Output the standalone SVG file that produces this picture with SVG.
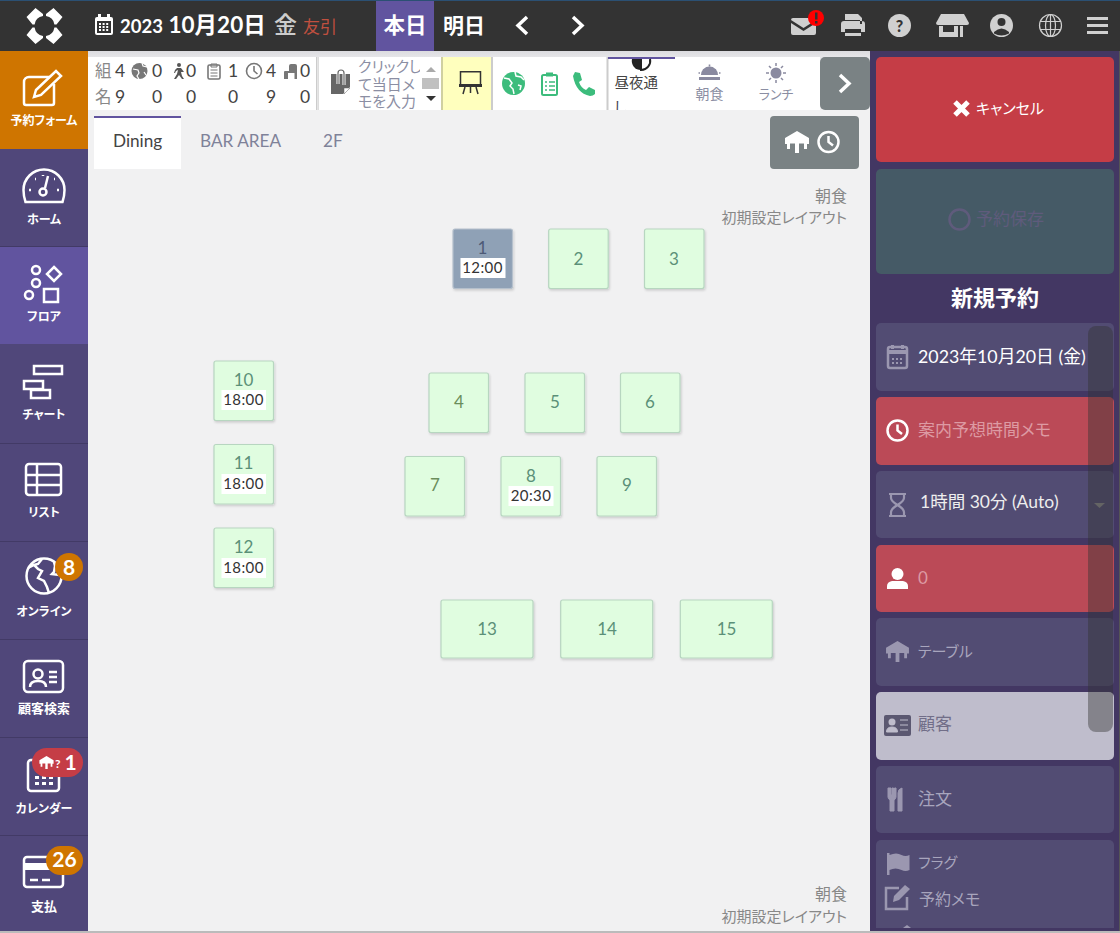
<svg xmlns="http://www.w3.org/2000/svg" width="1120" height="933" viewBox="0 0 1120 933">
<style>
text{font-family:"Lato","Noto Sans CJK JP",sans-serif;font-feature-settings:"palt"}
.cjk{font-family:"Noto Sans CJK JP","Lato",sans-serif}
.nav{fill:#fff;font-size:13px;font-weight:700;text-anchor:middle}
.kana{font-size:12px}
.ico{fill:none;stroke:#fff;stroke-width:2.5}
.top{fill:#d0d0d0}
.stat{font-size:17.500px;fill:#444;text-anchor:middle}
.statj{font-size:16.500px;fill:#888}
.tab{font-size:17.200px;fill:#7f8299}
.tbl{fill:#e0fde0;stroke:#b7d6c0;stroke-width:1.2;filter:url(#sh)}
.tn{font-size:17px;fill:#5b9078;text-anchor:middle}
.tt{font-size:15px;letter-spacing:.4px;fill:#333;text-anchor:middle}
.card{fill:#524c73}
.red{fill:#bb4a57}
.lbl{font-size:17px}
.mut{fill:#a8a5bd}
.micon{fill:#9b97b0}
.badge{fill:#cf7500}
.bt{fill:#fff;font-weight:700;font-size:21px;text-anchor:middle}
.green{fill:#3cbc7c}
.note{font-size:15px;fill:#888;text-anchor:end}
</style>
<defs>
<filter id="sh" x="-10%" y="-10%" width="125%" height="125%"><feDropShadow dx="1" dy="1.500" stdDeviation="1.200" flood-color="#000" flood-opacity=".16"/></filter>
<linearGradient id="tg" x1="0" y1="0" x2="0" y2="1"><stop offset="0" stop-color="#dcdce0"/><stop offset="1" stop-color="#f1f1f3"/></linearGradient>
<clipPath id="c"><rect x="608" y="57" width="67" height="53"/></clipPath>
<clipPath id="m"><rect x="350" y="57" width="70" height="53"/></clipPath>
<symbol id="table" viewBox="0 0 24 22"><path d="M12 0 24 7v6h-2v5h-3v-5.500h-5V22h-4V12.500H5V18H2v-5H0V7z"/></symbol>
<g id="clock"><circle r="10" fill="none" stroke-width="2.500"/><path d="M0-6V0l4.500 3.500" fill="none" stroke-width="2.500"/></g>
<path id="petal" d="M-18-9-9-18-1.500-12V-9.900A10 10 0 0 0-9.900-1.500H-12z"/>
</defs>

<rect width="1120" height="933" fill="#f1f1f2"/>
<rect x="88" y="51" width="782" height="14" fill="url(#tg)"/>

<g id="topbar">
<rect width="1120" height="51" fill="#333"/>
<rect width="1120" height="1" fill="#2b5073"/>
<g id="logo" fill="#fff" transform="translate(44.500 26)"><use href="#petal"/><use href="#petal" transform="scale(-1 1)"/><use href="#petal" transform="scale(1 -1)"/><use href="#petal" transform="scale(-1 -1)"/></g>
<g id="date-icon"><rect x="95" y="17" width="18" height="18" rx="2" fill="#fff"/><rect x="98" y="14" width="3" height="5" fill="#fff"/><rect x="107" y="14" width="3" height="5" fill="#fff"/><rect x="97" y="21" width="14" height="12" fill="#333"/><path d="M99 24h10M99 27h10M99 30h10" stroke="#fff" stroke-width="2" stroke-dasharray="2 1.600"/></g>
<text x="120" y="33" font-size="18.500" font-weight="700" fill="#fff">2023</text>
<text x="168.500" y="33" font-size="22.500" font-weight="700" fill="#fff">10月20日</text>
<text x="274" y="33" font-size="23" fill="#ccc" class="cjk" font-weight="500">金</text>
<text x="303" y="33" font-size="17" fill="#c0503f" class="cjk">友引</text>
<rect x="376" y="1" width="58" height="50" fill="#61549f"/>
<text x="405" y="33" font-size="21.500" font-weight="700" fill="#fff" text-anchor="middle" class="cjk">本日</text>
<text x="464" y="33" font-size="21" font-weight="700" fill="#fff" text-anchor="middle" class="cjk">明日</text>
<path d="M527 17l-9 8.500 9 8.500M573 17l9 8.500-9 8.500" fill="none" stroke="#fff" stroke-width="3.500"/>
<g id="top-icons" class="top">
<path d="M791 20q0-2 2-2h21q2 0 2 2l-12.500 8zM791 23l12.500 8 12.500-8v10q0 2-2 2h-21q-2 0-2-2z"/>
<circle cx="816" cy="18" r="8" fill="#f00"/><rect x="815" y="12.500" width="2.500" height="7" fill="#333"/><rect x="815" y="21" width="2.500" height="2.500" fill="#333"/>
<path d="M845 14h13l4 4v6h-2v-4h-15zM841 24q0-3 3-3h18q3 0 3 3v8h-4v4h-16v-4h-4zM845 29v4h16v-4z" fill-rule="evenodd"/>
<circle cx="899.500" cy="25.500" r="11.500"/><text x="899.500" y="31.500" font-size="16" font-weight="900" fill="#333" text-anchor="middle">?</text>
<path d="M941 14h23l5 9q0 2-2 2h-29q-2 0-2-2z"/><path d="M939 26h4v6h11v-6h4v11h-19zM960 26h3v11h-3z"/>
<circle cx="1001.500" cy="25.500" r="11.500"/><circle cx="1001.500" cy="22" r="4" fill="#333"/><path d="M994 32q7.500-7 15 0v1.500q-7.500 4-15 0z" fill="#333"/>
<g fill="none" stroke="#d0d0d0" stroke-width="1.200"><circle cx="1050.500" cy="25.500" r="11"/><ellipse cx="1050.500" cy="25.500" rx="5" ry="11"/><path d="M1040 21.500h21M1040 29.500h21M1050.500 14.500v22"/></g>
<rect x="1087" y="17" width="21" height="3"/><rect x="1087" y="24" width="21" height="3"/><rect x="1087" y="31" width="21" height="3"/>
</g>
</g>

<g id="sidebar">
<rect y="51" width="88" height="880" fill="#50477a"/>
<path d="M0 246.500H88M0 443.500H88M0 541.500H88M0 639.500H88M0 737.500H88M0 835.500H88" stroke="#423a66"/>
<g id="nav-form"><rect y="51" width="88" height="98" fill="#cf7500"/>
<path d="M50 77H29a5 5 0 0 0-5 5v21a2 2 0 0 0 2 2h26a2 2 0 0 0 2-2V84" class="ico"/><path d="M34 97l2-7 20-19 5 5-20 19z" class="ico"/><text x="44" y="125" class="nav kana">予約フォーム</text></g>
<g id="nav-home"><path d="M25.500 202Q23.500 196 23.500 190a20.500 20.500 0 0 1 41 0q0 6-2 12z" class="ico"/><circle cx="43" cy="192" r="3.500" class="ico"/><path d="M45 188l3-12" class="ico"/><path d="M29 190h2M35 179h1M43 175v1M54 179h1M57 190h2" class="ico"/><text x="44" y="224" class="nav kana">ホーム</text></g>
<g id="nav-floor"><rect y="247" width="88" height="97" fill="#61549f"/><g class="ico"><circle cx="36" cy="270" r="4"/><circle cx="36" cy="283" r="4"/><circle cx="29" cy="295" r="4"/><rect x="44" y="289" width="14" height="13"/><path d="M54 267l7 7-7 7-7-7z"/></g><text x="44" y="321" class="nav kana">フロア</text></g>
<g id="nav-chart"><g class="ico"><rect x="34" y="366" width="28" height="8"/><rect x="24" y="381" width="19" height="8"/><rect x="31" y="390" width="19" height="8"/></g><text x="44" y="419" class="nav kana">チャート</text></g>
<g id="nav-list"><rect x="26" y="464" width="35" height="31" rx="3" class="ico"/><path d="M26 475h35M26 485h35M37 464v31" class="ico"/><text x="44" y="517" class="nav kana">リスト</text></g>
<g id="nav-online"><circle cx="44" cy="576" r="17.500" class="ico"/><path d="M42 559l-4 5-4 1 4 4 4 2-4 7 6 3 3 6 2 6M54 562l1 4-1 6-2 2 8 1M34 565l-6 3" class="ico" stroke-width="2"/><circle cx="69" cy="567" r="14" class="badge"/><text x="69" y="574.500" class="bt">8</text><text x="44" y="616" class="nav kana">オンライン</text></g>
<g id="nav-customer"><rect x="24" y="661" width="39" height="31" rx="4" class="ico"/><circle cx="38" cy="674" r="4.500" class="ico"/><path d="M30 687q0-6 8-6t8 6M49 672h8M49 677h8M49 682h8" class="ico"/><text x="44" y="713" class="nav">顧客検索</text></g>
<g id="nav-calendar"><rect x="28" y="760" width="31" height="31" rx="3" class="ico"/><path d="M35 776h4v3h-4zM42 776h4v3h-4zM49 776h4v3h-4zM35 782h4v3h-4zM42 782h4v3h-4zM49 782h4v3h-4z" fill="#fff"/><rect x="32" y="748" width="51" height="29" rx="14.500" fill="#c53d46"/><use href="#table" x="39" y="756" width="15" height="13" fill="#fff"/><text x="55" y="768" font-size="12" font-weight="700" fill="#fff">?</text><text x="70.500" y="770" class="bt">1</text><text x="44" y="813" class="nav kana">カレンダー</text></g>
<g id="nav-pay"><rect x="24" y="857" width="39" height="30" rx="3" class="ico"/><rect x="24" y="863" width="39" height="7" fill="#fff"/><path d="M30 880h8M42 880h8" class="ico"/><rect x="46" y="846" width="37" height="29" rx="14.500" class="badge"/><text x="64.500" y="867" class="bt">26</text><text x="44" y="911" class="nav">支払</text></g>
</g>

<g id="toolbar">
<rect x="88" y="57" width="732" height="53" fill="#fff"/>
<g id="stats">
<text x="95" y="77" class="statj cjk">組</text><text x="95" y="103" class="statj cjk">名</text>
<text class="stat" x="120" y="77">4</text><text class="stat" x="120" y="103">9</text>
<circle cx="139.500" cy="71" r="8" fill="#777"/><path d="M133 69l5 1 1 3-2 3 2 3M142 63l1 3 4 1M144 72l2 3" stroke="#fff" fill="none" stroke-width="1.200"/>
<text class="stat" x="157" y="77">0</text><text class="stat" x="157" y="103">0</text>
<g fill="#555"><circle cx="179" cy="65" r="2"/><path d="M177 68h4l3 4h-3l1 4 2 3h-2l-3-4-3 4h-2l3-5 1-4-2 1-1 2h-1l1-3z"/></g>
<text class="stat" x="191" y="77">0</text><text class="stat" x="191" y="103">0</text>
<rect x="208" y="65" width="12" height="14" rx="1.500" fill="none" stroke="#777" stroke-width="1.600"/><path d="M211 64h6v3h-6zM210.500 70h7M210.500 73h7M210.500 76h7" fill="none" stroke="#777"/>
<text class="stat" x="233" y="77">1</text><text class="stat" x="233" y="103">0</text>
<circle cx="254" cy="71" r="7.500" fill="none" stroke="#777" stroke-width="1.600"/><path d="M254 66v5l3.500 3" fill="none" stroke="#777" stroke-width="1.600"/>
<text class="stat" x="271" y="77">4</text><text class="stat" x="271" y="103">9</text>
<path d="M289 66q0-2 2-2h4q2 0 2 2v13h-2.500v-6H288v6h-4v-7q0-1 1-1h4z" fill="#777"/>
<text class="stat" x="305" y="77">0</text><text class="stat" x="305" y="103">0</text>
</g>
<rect x="316" y="57" width="1.500" height="53" fill="#ccc"/><rect x="318" y="57" width="1" height="53" fill="#ddd"/>
<g id="memo"><path d="M331 74h19v13l-7 7h-12z" fill="#666"/><path d="M344 94v-6h6z" fill="#fff" stroke="#666" stroke-width=".5"/><path d="M338 84V73a3 3 0 0 1 6 0v12" fill="none" stroke="#fff" stroke-width="3"/><path d="M338 84V73a3 3 0 0 1 6 0v12" fill="none" stroke="#666" stroke-width="1.200"/>
<g clip-path="url(#m)"><text font-size="15" fill="#8b8ea3" class="cjk"><tspan x="358" y="72">クリックし</tspan><tspan x="358" y="90">て当日メ</tspan><tspan x="358" y="107">モを入力</tspan></text></g>
<path d="M426 72l5-5 5 5z" fill="#aaa"/><rect x="422" y="78" width="17" height="11" fill="#c0c0c0"/><path d="M426 96l5 5 5-5z" fill="#333"/></g>
<rect x="442" y="57" width="49" height="53" fill="#ffffbe"/><rect x="441" y="57" width="2" height="53" fill="#d0d0a0"/><rect x="491" y="57" width="2" height="53" fill="#ccc"/>
<path d="M460.500 85V71.700h20V85M465 87l-2 7M476 87l2 7M470.500 87v6" fill="none" stroke="#333" stroke-width="1.500"/><rect x="459" y="84" width="23" height="3" fill="#333"/>
<g id="green-icons"><circle cx="513.500" cy="83.500" r="11.500" class="green"/><path d="M504 78l5 1 3 4-2 3 3 3 1 5M515 72l1 4 5 1 3 3M518 85l3 1-1 4" fill="none" stroke="#fff" stroke-width="1.500"/>
<rect x="542" y="75" width="15" height="20" rx="1.500" fill="none" stroke="#3cbc7c" stroke-width="2"/><rect x="546" y="72.500" width="7" height="4" class="green"/><path d="M545 82h2M549 82h6M545 86h2M549 86h6M545 90h2M549 90h6" stroke="#3cbc7c" stroke-width="1.500"/>
<path d="M575 72l5 1 2 7-3 2q2 6 7 8l3-3 6 3 0 4q-2 2-5 2-14-3-17-20z" class="green"/></g>
<rect x="606.500" y="57" width="2" height="53" fill="#ccc"/>
<rect x="608" y="57" width="67" height="2" fill="#61549f"/>
<path d="M632 59a9 9 0 0 0 9 11v-11z" fill="#222"/><path d="M641 59v11a9 9 0 0 0 9-11" fill="none" stroke="#222" stroke-width="2"/>
<text x="614.500" y="88" font-size="14.500" fill="#444" class="cjk">昼夜通</text><g clip-path="url(#c)"><text x="614.500" y="113" font-size="14.500" fill="#445" class="cjk">し</text></g>
<path d="M701 75a8.500 8.500 0 0 1 17 0zM699 77h21v3h-21z" fill="#8a8aa0"/><path d="M703 69.500l1 1M709.500 64.500v2M716 69.500l-1 1M698.500 73h1.500M719 73h1.500" stroke="#8a8aa0" stroke-width="1.600"/><text x="709.500" y="99" font-size="14" fill="#8b8ea3" text-anchor="middle" class="cjk">朝食</text>
<circle cx="776" cy="73" r="5.500" fill="#8a8aa0"/><path d="M776 63v3M776 80v3M766 73h3M783 73h3M769 66l2 2M781 78l2 2M783 66l-2 2M771 78l-2 2" stroke="#8a8aa0" stroke-width="1.500"/><text x="776" y="99" font-size="13" fill="#8b8ea3" text-anchor="middle" class="cjk">ランチ</text>
<rect x="820" y="57" width="50" height="53" rx="5" fill="#7a8284"/><path d="M840 75l9 8.500-9 8.500" fill="none" stroke="#fff" stroke-width="3.500"/>
</g>

<g id="tabs">
<rect x="94" y="116" width="87" height="53" fill="#fff"/><rect x="94" y="116" width="87" height="2" fill="#61549f"/>
<text x="113" y="147" class="tab" style="fill:#444">Dining</text><text x="200" y="147" class="tab">BAR AREA</text><text x="323" y="147" class="tab">2F</text>
<rect x="770" y="116" width="89" height="53" rx="4" fill="#7a8284"/><use href="#table" x="785" y="131" width="24" height="22" fill="#fff"/><use href="#clock" transform="translate(828.500 142)" stroke="#fff"/>
<text x="847" y="202" class="note cjk" style="font-size:16px">朝食</text><text x="847" y="223" class="note cjk">初期設定レイアウト</text>
<text x="847" y="900" class="note cjk" style="font-size:16px">朝食</text><text x="847" y="922" class="note cjk">初期設定レイアウト</text>
</g>

<g id="tables">
<g id="t1"><rect x="453" y="229" width="59.500" height="59.500" rx="2" fill="#8fa1b6" stroke="#b5c0cc" stroke-width="1.200" filter="url(#sh)"/><text x="482.500" y="254" class="tn" style="fill:#4d5a76">1</text><rect x="460.500" y="258" width="45" height="20" fill="#fff"/><text x="482.500" y="273" class="tt">12:00</text></g>
<g id="t2"><rect class="tbl" x="548.700" y="229" width="59.500" height="59.500" rx="2"/><text x="578.500" y="265" class="tn">2</text></g>
<g id="t3"><rect class="tbl" x="644.500" y="229" width="59.500" height="59.500" rx="2"/><text x="674" y="265" class="tn">3</text></g>
<g id="t4"><rect class="tbl" x="429" y="373" width="59.500" height="59.500" rx="2"/><text x="459" y="408" class="tn" style="fill:#6b8d5c">4</text></g>
<g id="t5"><rect class="tbl" x="525" y="373" width="59.500" height="59.500" rx="2"/><text x="555" y="408" class="tn">5</text></g>
<g id="t6"><rect class="tbl" x="620.500" y="373" width="59.500" height="59.500" rx="2"/><text x="650" y="408" class="tn">6</text></g>
<g id="t7"><rect class="tbl" x="405" y="456.500" width="59.500" height="59.500" rx="2"/><text x="435" y="491" class="tn" style="fill:#6b8d5c">7</text></g>
<g id="t8"><rect class="tbl" x="501" y="456.500" width="59.500" height="59.500" rx="2"/><text x="531" y="482" class="tn">8</text><rect x="508.500" y="486" width="45" height="20" fill="#fff"/><text x="531" y="501" class="tt">20:30</text></g>
<g id="t9"><rect class="tbl" x="597" y="456.500" width="59.500" height="59.500" rx="2"/><text x="627" y="491" class="tn">9</text></g>
<g id="t10"><rect class="tbl" x="214" y="361" width="59.500" height="59.500" rx="2"/><text x="243.500" y="386" class="tn">10</text><rect x="221.500" y="390" width="44.500" height="20" fill="#fff"/><text x="243.500" y="405" class="tt">18:00</text></g>
<g id="t11"><rect class="tbl" x="214" y="444.500" width="59.500" height="59.500" rx="2"/><text x="243.500" y="469" class="tn">11</text><rect x="221.500" y="474" width="44.500" height="20" fill="#fff"/><text x="243.500" y="489" class="tt">18:00</text></g>
<g id="t12"><rect class="tbl" x="214" y="528" width="59.500" height="59.500" rx="2"/><text x="243.500" y="553" class="tn">12</text><rect x="221.500" y="558" width="44.500" height="20" fill="#fff"/><text x="243.500" y="573" class="tt">18:00</text></g>
<g id="t13"><rect class="tbl" x="441" y="600" width="92" height="58" rx="2"/><text x="487" y="635" class="tn">13</text></g>
<g id="t14"><rect class="tbl" x="560.700" y="600" width="92" height="58" rx="2"/><text x="607" y="635" class="tn">14</text></g>
<g id="t15"><rect class="tbl" x="680.300" y="600" width="92" height="58" rx="2"/><text x="726.500" y="635" class="tn">15</text></g>
</g>

<g id="panel">
<rect x="870" y="51" width="250" height="880" fill="#433763"/>
<rect x="1119" y="51" width="1" height="880" fill="#555"/>
<g id="cancel"><rect x="876" y="57" width="238" height="105" rx="5" fill="#c53d46"/><path d="M955 102l13 13M968 102l-13 13" stroke="#fff" stroke-width="5"/><text x="976" y="114" font-size="15" fill="#fff" class="cjk">キャンセル</text></g>
<g id="save"><rect x="876" y="169" width="238" height="105" rx="5" fill="#455a66"/><circle cx="959.500" cy="219.500" r="10" fill="none" stroke="#5f5b7c" stroke-width="2.500"/><text x="976" y="225" font-size="17" fill="#5f5b7c" class="cjk">予約保存</text></g>
<text x="995" y="306" font-size="22" font-weight="700" fill="#fff" text-anchor="middle" class="cjk">新規予約</text>
<g id="f-date"><rect class="card" x="876" y="323" width="238" height="68" rx="5"/><rect x="888" y="347" width="19" height="21" rx="2" fill="none" stroke="#9b97b0" stroke-width="2.500"/><path d="M888 350h19v4h-19zM891 345h3v4h-3zM901 345h3v4h-3zM892 358h2v2h-2zM896 358h2v2h-2zM900 358h2v2h-2zM892 362h2v2h-2zM896 362h2v2h-2zM900 362h2v2h-2z" fill="#9b97b0"/><text x="918" y="363" font-size="17.800" fill="#fff">2023年10月20日 (金)</text></g>
<g id="f-memo"><rect class="red" x="876" y="397" width="238" height="68" rx="5"/><use href="#clock" transform="translate(897.500 430.500)" stroke="#fff"/><text x="918" y="436" class="lbl cjk" fill="#dd9aa3">案内予想時間メモ</text></g>
<g id="f-time"><rect class="card" x="876" y="471" width="238" height="67" rx="5"/><path d="M889 494h17M889 516h17M891 494v4q0 3 6.500 7 6.500-4 6.500-7v-4M891 516v-4q0-3 6.500-7 6.500 4 6.500 7v4" fill="none" stroke="#9b97b0" stroke-width="2.200"/><text x="920" y="508" font-size="17.500" fill="#eee">1時間 30分 (Auto)</text><path d="M1094 503h11l-5.500 5z" fill="#888"/></g>
<g id="f-guest"><rect class="red" x="876" y="545" width="238" height="67" rx="5"/><circle cx="897.500" cy="574" r="6" fill="#fff"/><path d="M887 589v-3q0-4 5-5h11q5 1 5 5v3q0 0-1 0h-19z" fill="#fff"/><text x="918" y="584" class="lbl" fill="#dd9aa3">0</text></g>
<g id="f-table"><rect class="card" x="876" y="618" width="238" height="68" rx="5"/><use href="#table" x="886" y="641" width="23" height="21" class="micon"/><text x="918" y="657" class="lbl cjk mut" style="font-size:15px">テーブル</text></g>
<g id="f-customer"><rect x="876" y="692" width="238" height="68" rx="5" fill="#bfbdcc"/><rect x="884" y="715" width="27" height="21" rx="2" fill="#5b5871"/><circle cx="892" cy="722" r="3.500" fill="#bfbdcc"/><path d="M886.500 732q0-5 5.500-5t5.500 5zM900 720h8M900 725h8M900 730h8" fill="#bfbdcc" stroke="#bfbdcc"/><text x="918" y="730" class="lbl cjk" fill="#716e88">顧客</text></g>
<g id="f-order"><rect class="card" x="876" y="766" width="238" height="67" rx="5"/><path d="M888 788v9q0 2 2 3v11h4v-11q2-1 2-3v-9h-1.500v7h-1v-7h-1.500v7h-1v-7zM898 811v-18q0-4 4-5v23z" class="micon" stroke="#9b97b0"/><text x="918" y="805" class="lbl cjk mut">注文</text></g>
<g id="f-more"><path d="M876 845a5 5 0 0 1 5-5h228a5 5 0 0 1 5 5v83H876z" class="card"/>
<path d="M887 853h2.500v22H887zM889.500 855q7-3 12-0 4 2 8 0v15q-4 2-8 0-6-3-12 0z" class="micon"/><text x="918" y="868" class="lbl cjk mut" style="font-size:15px">フラグ</text>
<path d="M899 888h-13v21h21v-12" fill="none" stroke="#9b97b0" stroke-width="2.500"/><path d="M893 902l1-6 11-11 5 4-11 11z" class="micon"/><text x="919" y="905" class="lbl cjk mut" style="font-size:16px">予約メモ</text>
<path d="M903 928l4-3 4 3z" class="micon"/></g>
<rect x="1088" y="326" width="25" height="406" rx="8" fill="#333" fill-opacity=".42"/>
</g>
<rect y="931" width="1120" height="2" fill="#bbb"/>
</svg>
